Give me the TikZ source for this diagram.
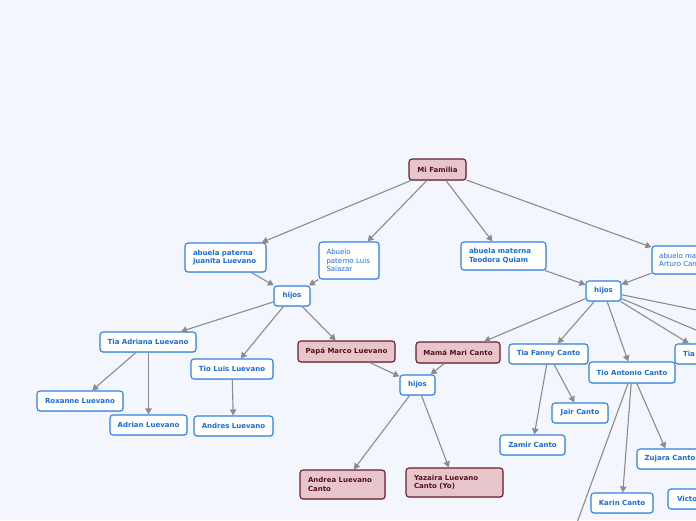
\documentclass[tikz,border=0pt]{standalone}
\usepackage{fontspec}
\setmainfont{DejaVu Sans}
\usetikzlibrary{arrows.meta,shadows}
\definecolor{bg}{HTML}{F3F6FD}
\definecolor{bluebd}{HTML}{2F80E4}
\definecolor{bluetx}{HTML}{1C6CD6}
\definecolor{pinkfill}{HTML}{E7C6CB}
\definecolor{pinkbd}{HTML}{6A1C2B}
\definecolor{pinktx}{HTML}{561020}
\definecolor{edgegray}{HTML}{8C8C8C}
\tikzset{
  box/.style={rounded corners=3pt, line width=1.1pt, inner sep=0pt,
    drop shadow={opacity=0.25,shadow xshift=0.6pt,shadow yshift=-0.9pt}},
  bluebox/.style={box, draw=bluebd, fill=white, text=bluetx, font=\fontsize{7}{8.5}\selectfont},
  boldblue/.style={box, draw=bluebd, fill=white, text=bluetx, font=\fontsize{7}{8.5}\selectfont\bfseries},
  pinkbox/.style={box, draw=pinkbd, fill=pinkfill, text=pinktx, font=\fontsize{7}{8.5}\selectfont\bfseries},
  conn/.style={draw=edgegray, line width=1.1pt, -{Triangle[length=6pt,width=6.5pt]}},
}
\begin{document}
\begin{tikzpicture}[x=1pt,y=-1pt]
\useasboundingbox (0,0) rectangle (696,520);
\clip (0,0) rectangle (696,520);
\fill[bg] (0,0) rectangle (696,520);

% nodes
\node[pinkbox, minimum width=57pt, minimum height=21pt] (fam) at (437.5,169.5) {Mi Familia};
\node[boldblue, minimum width=81pt, minimum height=29pt, text width=65pt, align=left] (apat) at (225.5,257.5) {abuela paterna\\juanita Luevano};
\node[bluebox, minimum width=60pt, minimum height=37pt, text width=45pt, align=left] (luis) at (349,260.5) {Abuelo\\paterno Luis\\Salazar};
\node[boldblue, minimum width=36pt, minimum height=20pt] (hijosL) at (292,296) {hijos};
\node[boldblue, minimum width=85pt, minimum height=28pt, text width=69pt, align=left] (amat) at (503.5,256) {abuela materna\\Teodora Quiam};
\node[bluebox, minimum width=70pt, minimum height=28pt, align=left] (arturo) at (687,260) {abuelo materno\\Arturo Canto};
\node[boldblue, minimum width=35pt, minimum height=20pt] (hijosR) at (603.5,291) {hijos};
\node[boldblue, minimum width=96pt, minimum height=20pt] (adriana) at (148,342) {Tia Adriana Luevano};
\node[boldblue, minimum width=82pt, minimum height=20pt] (tioluis) at (232,369) {Tio Luis Luevano};
\node[boldblue, minimum width=86pt, minimum height=20pt] (roxanne) at (80,401) {Roxanne Luevano};
\node[boldblue, minimum width=77pt, minimum height=20pt] (adrian) at (148.5,425) {Adrian Luevano};
\node[boldblue, minimum width=79pt, minimum height=20pt] (andres) at (233.5,426) {Andres Luevano};
\node[pinkbox, minimum width=97pt, minimum height=21pt] (papa) at (346.5,351.5) {Papá Marco Luevano};
\node[pinkbox, minimum width=84pt, minimum height=21pt] (mama) at (458,352.5) {Mamá Mari Canto};
\node[boldblue, minimum width=35pt, minimum height=20pt] (hijosC) at (417.5,385) {hijos};
\node[pinkbox, minimum width=85pt, minimum height=29pt, text width=69pt, align=left] (andrea) at (342.5,484.5) {Andrea Luevano\\Canto};
\node[pinkbox, minimum width=97pt, minimum height=29pt, text width=81pt, align=left] (yaz) at (454.5,482.5) {Yazaira Luevano\\Canto (Yo)};
\node[boldblue, minimum width=79pt, minimum height=20pt] (fanny) at (548.5,354) {Tia Fanny Canto};
\node[boldblue, minimum width=86pt, minimum height=21pt] (antonio) at (632,372.5) {Tio Antonio Canto};
\node[boldblue, minimum width=62pt, minimum height=20pt, text width=46pt, align=left] (tia) at (706,354) {Tia};
\node[boldblue, minimum width=56pt, minimum height=20pt] (jair) at (580,413) {Jair Canto};
\node[boldblue, minimum width=65pt, minimum height=20pt] (zamir) at (532.5,445) {Zamir Canto};
\node[boldblue, minimum width=66pt, minimum height=20pt] (zujara) at (670,459) {Zujara Canto};
\node[boldblue, minimum width=62pt, minimum height=20pt] (karin) at (622,503) {Karin Canto};
\node[boldblue, minimum width=67pt, minimum height=20pt] (victor) at (701.5,499) {Victor Canto};

\coordinate (offA) at (760,323);
\coordinate (offB) at (760,357);
\coordinate (offC) at (567,550);

% connectors
\draw[conn] (fam) -- (apat);
\draw[conn] (fam) -- (luis);
\draw[conn] (fam) -- (amat);
\draw[conn] (fam) -- (arturo);
\draw[conn] (apat) -- (hijosL);
\draw[conn] (luis) -- (hijosL);
\draw[conn] (hijosL) -- (adriana);
\draw[conn] (hijosL) -- (tioluis);
\draw[conn] (hijosL) -- (papa);
\draw[conn] (adriana) -- (roxanne);
\draw[conn] (adriana.south -| adrian.north) -- (adrian);
\draw[conn] (tioluis) -- (andres);
\draw[conn] (amat) -- (hijosR);
\draw[conn] (arturo) -- (hijosR);
\draw[conn] (hijosR) -- (mama);
\draw[conn] (hijosR) -- (fanny);
\draw[conn] (hijosR) -- (antonio);
\draw[conn] (hijosR) -- (tia);
\draw[conn] (hijosR) -- (offA);
\draw[conn] (hijosR) -- (offB);
\draw[conn] (papa) -- (hijosC);
\draw[conn] (mama) -- (hijosC);
\draw[conn] (hijosC) -- (andrea);
\draw[conn] (hijosC) -- (yaz);
\draw[conn] (fanny) -- (jair);
\draw[conn] (fanny) -- (zamir);
\draw[conn] (antonio) -- (zujara);
\draw[conn] (antonio) -- (karin);
\draw[conn] (antonio) -- (offC);
\end{tikzpicture}
\end{document}
